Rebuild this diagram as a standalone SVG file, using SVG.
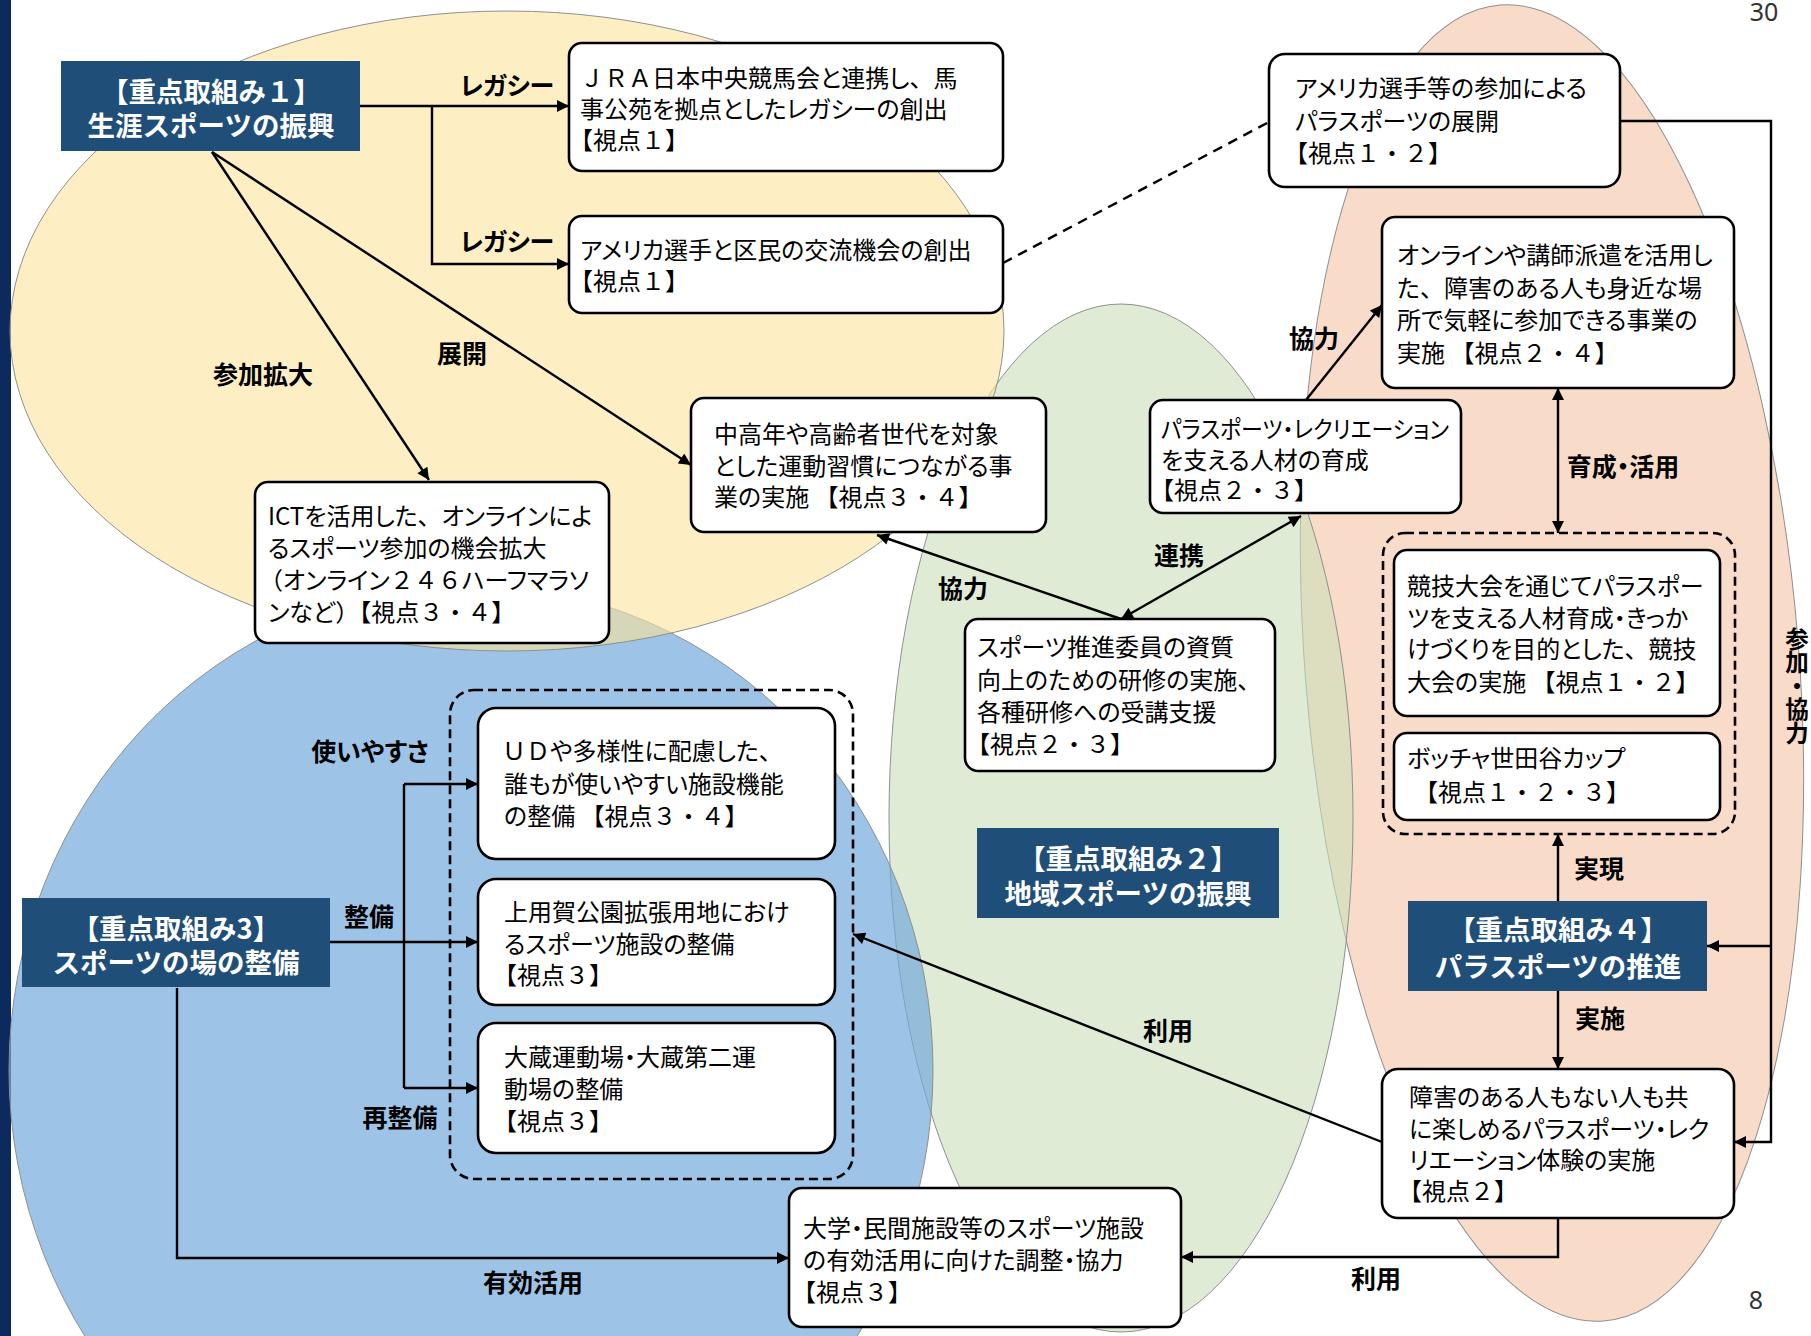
<svg xmlns="http://www.w3.org/2000/svg" width="1811" height="1336" viewBox="0 0 1811 1336">
<defs>
<style>
.bx{fill:#fff;stroke:#000;stroke-width:2.6}
.hd{fill:#1f4e79}
.ht{fill:#fff;font-family:"Noto Sans CJK JP","Noto Sans CJK SC",sans-serif;font-weight:700;font-size:27.5px;text-anchor:middle}
.t{font-family:"Noto Sans CJK JP","Noto Sans CJK SC",sans-serif;font-size:24px;fill:#000;font-feature-settings:"palt" 1}
.np{font-feature-settings:normal}
.lb{font-family:"Noto Sans CJK JP","Noto Sans CJK SC",sans-serif;font-weight:700;font-size:25px;fill:#000;text-anchor:middle;font-feature-settings:"palt" 1}
.vt{font-family:"Noto Sans CJK JP","Noto Sans CJK SC",sans-serif;font-weight:700;font-size:23.5px;fill:#000;text-anchor:middle;writing-mode:vertical-rl}
.cn{fill:none;stroke:#000;stroke-width:2.4}
.ar{marker-end:url(#ah)}
.grp{fill:none;stroke:#000;stroke-width:2.6;stroke-dasharray:9 5}
.el{stroke:#8f8f8f;stroke-width:1}
.pg{font-family:"Noto Sans","Liberation Sans",sans-serif;font-size:25px;fill:#333;text-anchor:middle}
</style>
<marker id="ah" viewBox="0 0 10 10" refX="10" refY="5" markerWidth="14" markerHeight="12" markerUnits="userSpaceOnUse" orient="auto-start-reverse">
<path d="M0,0 L10,5 L0,10 z" fill="#000"/>
</marker>
</defs>
<rect x="0" y="0" width="1811" height="1336" fill="#fff"/>
<rect x="0" y="0" width="11" height="1336" fill="#0d2a5f"/>
<g id="areas">
<ellipse class="el" cx="1552" cy="663" rx="247" ry="660" transform="rotate(-4.5 1552 663)" fill="#f9dbc9"/>
<ellipse class="el" cx="1121" cy="818" rx="232" ry="514" fill="#cadeb9" fill-opacity="0.6"/>
<ellipse class="el" cx="471" cy="1070" rx="462" ry="485" fill="#73a9db" fill-opacity="0.7"/>
<ellipse class="el" cx="507" cy="331" rx="497" ry="320" fill="#fce49b" fill-opacity="0.6"/>
</g>
<text class="pg" x="1764" y="21">30</text>
<text class="pg" x="1756" y="1309">8</text>
<g id="connectors">
<path class="cn ar" d="M360,106 H569"/>
<path class="cn ar" d="M432,106 V264 H569"/>
<path class="cn ar" d="M212,152 L429,480"/>
<path class="cn ar" d="M212,152 L691,465"/>
<path class="cn" d="M1003,263 L1269,122" stroke-dasharray="10 7" stroke-width="2.2"/>
<path class="cn ar" d="M1620,121 H1771 V1142 H1734"/>
<path class="cn ar" d="M1771,946 H1707"/>
<path class="cn ar" d="M1306,400 L1382,305"/>
<path class="cn ar" d="M1558,388 V533" marker-start="url(#ah)"/>
<path class="cn ar" d="M1558,901 V834"/>
<path class="cn ar" d="M1558,991 V1069"/>
<path class="cn ar" d="M1121,619 L877,535"/>
<path class="cn ar" d="M1121,619 L1301,516" marker-start="url(#ah)"/>
<path class="cn ar" d="M1382,1142 L853,934"/>
<path class="cn ar" d="M1558,1218 V1257 H1181"/>
<path class="cn ar" d="M177,988 V1258 H789"/>
<path class="cn ar" d="M330,942 H478"/>
<path class="cn" d="M404,784 V1088"/>
<path class="cn ar" d="M404,784 H478"/>
<path class="cn ar" d="M404,1088 H478"/>
<text class="lb" x="507" y="95">レガシー</text>
<text class="lb" x="507" y="251">レガシー</text>
<text class="lb" x="263" y="384">参加拡大</text>
<text class="lb" x="462" y="363">展開</text>
<text class="lb" x="1314" y="348">協力</text>
<text class="lb" x="1623" y="476">育成・活用</text>
<text class="lb" x="1599" y="878">実現</text>
<text class="lb" x="1600" y="1028">実施</text>
<text class="lb" x="963" y="598">協力</text>
<text class="lb" x="1179" y="565">連携</text>
<text class="lb" x="1168" y="1040">利用</text>
<text class="lb" x="1376" y="1288">利用</text>
<text class="lb" x="533" y="1292">有効活用</text>
<text class="lb" x="370" y="761">使いやすさ</text>
<text class="lb" x="369" y="926">整備</text>
<text class="lb" x="400" y="1127">再整備</text>
<text class="vt" x="1797" y="686">参加・協力</text>
</g>
<g id="n-focus1">
<rect class="hd" x="61" y="61" width="299" height="90"/>
<text class="ht" x="211" y="102">【重点取組み１】</text>
<text class="ht" x="211" y="136">生涯スポーツの振興</text>
</g>
<g id="n-focus2">
<rect class="hd" x="977" y="828" width="302" height="90"/>
<text class="ht" x="1128" y="869">【重点取組み２】</text>
<text class="ht" x="1128" y="904">地域スポーツの振興</text>
</g>
<g id="n-focus3">
<rect class="hd" x="22" y="898" width="308" height="89"/>
<text class="ht" x="176" y="939">【重点取組み3】</text>
<text class="ht" x="176" y="973">スポーツの場の整備</text>
</g>
<g id="n-focus4">
<rect class="hd" x="1408" y="901" width="299" height="90"/>
<text class="ht" x="1558" y="940">【重点取組み４】</text>
<text class="ht" x="1558" y="977">パラスポーツの推進</text>
</g>
<g id="n-jra">
<rect class="bx" x="569" y="43" width="434" height="128" rx="13"/>
<text class="t" x="580" y="87"><tspan class="np">ＪＲＡ</tspan>日本中央競馬会と連携し<tspan class="np">、</tspan>馬</text>
<text class="t" x="580" y="118">事公苑を拠点としたレガシーの創出</text>
<text class="t" x="569" y="149"><tspan class="np">【視点１】</tspan></text>
</g>
<g id="n-exchange">
<rect class="bx" x="569" y="216" width="434" height="97" rx="13"/>
<text class="t" x="580" y="259">アメリカ選手と区民の交流機会の創出</text>
<text class="t" x="569" y="290"><tspan class="np">【視点１】</tspan></text>
</g>
<g id="n-senior">
<rect class="bx" x="691" y="398" width="355" height="134" rx="13"/>
<text class="t" x="714" y="443">中高年や高齢者世代を対象</text>
<text class="t" x="714" y="475">とした運動習慣につながる事</text>
<text class="t" x="714" y="506">業の実施 <tspan class="np">【視点３・４】</tspan></text>
</g>
<g id="n-ict">
<rect class="bx" x="255" y="482" width="354" height="161" rx="13"/>
<text class="t" x="268" y="525">ICTを活用した<tspan class="np">、</tspan>オンラインによ</text>
<text class="t" x="268" y="557">るスポーツ参加の機会拡大</text>
<text class="t" x="259" y="589"><tspan class="np">（</tspan>オンライン<tspan class="np">２４６</tspan>ハーフマラソ</text>
<text class="t" x="268" y="621">ンなど<tspan class="np">）【視点３・４】</tspan></text>
</g>
<g id="n-usa-para">
<rect class="bx" x="1269" y="54" width="351" height="133" rx="16"/>
<text class="t" x="1295" y="97">アメリカ選手等の参加による</text>
<text class="t" x="1295" y="130">パラスポーツの展開</text>
<text class="t" x="1284" y="162"><tspan class="np">【視点１・２】</tspan></text>
</g>
<g id="n-online">
<rect class="bx" x="1382" y="217" width="352" height="171" rx="13"/>
<text class="t" x="1397" y="264">オンラインや講師派遣を活用し</text>
<text class="t" x="1397" y="297">た<tspan class="np">、</tspan>障害のある人も身近な場</text>
<text class="t" x="1397" y="329">所で気軽に参加できる事業の</text>
<text class="t" x="1397" y="362">実施 <tspan class="np">【視点２・４】</tspan></text>
</g>
<g id="n-para-staff">
<rect class="bx" x="1150" y="400" width="311" height="113" rx="13"/>
<text class="t" x="1161" y="438" textLength="288" lengthAdjust="spacingAndGlyphs">パラスポーツ・レクリエーション</text>
<text class="t" x="1161" y="469">を支える人材の育成</text>
<text class="t" x="1150" y="499"><tspan class="np">【視点２・３】</tspan></text>
</g>
<g id="n-committee">
<rect class="bx" x="965" y="619" width="310" height="152" rx="13"/>
<text class="t" x="977" y="656">スポーツ推進委員の資質</text>
<text class="t" x="977" y="689">向上のための研修の実施<tspan class="np">、</tspan></text>
<text class="t" x="977" y="721">各種研修への受講支援</text>
<text class="t" x="966" y="753"><tspan class="np">【視点２・３】</tspan></text>
</g>
<g id="n-para-events">
<rect class="grp" x="1383" y="533" width="352" height="301" rx="22"/>
<rect class="bx" x="1394" y="550" width="326" height="166" rx="13"/>
<text class="t" x="1407" y="595">競技大会を通じてパラスポー</text>
<text class="t" x="1407" y="627">ツを支える人材育成・きっか</text>
<text class="t" x="1407" y="658">けづくりを目的とした<tspan class="np">、</tspan>競技</text>
<text class="t" x="1407" y="691">大会の実施 <tspan class="np">【視点１・２】</tspan></text>
<rect class="bx" x="1394" y="733" width="326" height="87" rx="13"/>
<text class="t" x="1407" y="767">ボッチャ世田谷カップ</text>
<text class="t" x="1414" y="801"><tspan class="np">【視点１・２・３】</tspan></text>
</g>
<g id="n-experience">
<rect class="bx" x="1382" y="1069" width="352" height="149" rx="16"/>
<text class="t" x="1409" y="1106">障害のある人もない人も共</text>
<text class="t" x="1409" y="1138">に楽しめるパラスポーツ・レク</text>
<text class="t" x="1409" y="1169">リエーション体験の実施</text>
<text class="t" x="1398" y="1200"><tspan class="np">【視点２】</tspan></text>
</g>
<g id="n-facilities">
<rect class="grp" x="450" y="690" width="403" height="489" rx="24"/>
<rect class="bx" x="478" y="708" width="357" height="151" rx="18"/>
<text class="t" x="502" y="760"><tspan class="np">ＵＤ</tspan>や多様性に配慮した<tspan class="np">、</tspan></text>
<text class="t" x="504" y="793">誰もが使いやすい施設機能</text>
<text class="t" x="504" y="825">の整備 <tspan class="np">【視点３・４】</tspan></text>
<rect class="bx" x="478" y="879" width="357" height="126" rx="18"/>
<text class="t" x="504" y="921">上用賀公園拡張用地におけ</text>
<text class="t" x="504" y="953">るスポーツ施設の整備</text>
<text class="t" x="493" y="984"><tspan class="np">【視点３】</tspan></text>
<rect class="bx" x="478" y="1023" width="357" height="130" rx="18"/>
<text class="t" x="504" y="1066">大蔵運動場・大蔵第二運</text>
<text class="t" x="504" y="1098">動場の整備</text>
<text class="t" x="493" y="1130"><tspan class="np">【視点３】</tspan></text>
</g>
<g id="n-university">
<rect class="bx" x="789" y="1188" width="392" height="139" rx="13"/>
<text class="t" x="803" y="1237">大学・民間施設等のスポーツ施設</text>
<text class="t" x="803" y="1269">の有効活用に向けた調整・協力</text>
<text class="t" x="792" y="1301"><tspan class="np">【視点３】</tspan></text>
</g>
</svg>
